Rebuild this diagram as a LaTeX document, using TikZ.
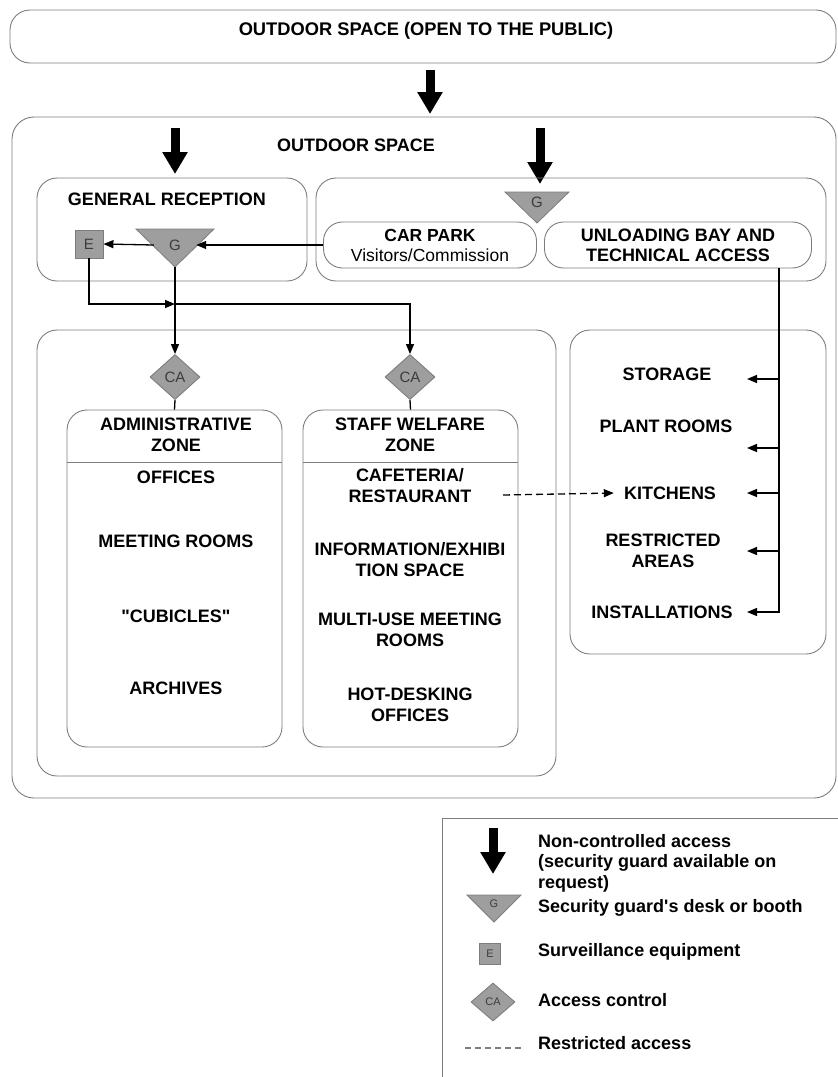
\documentclass[tikz,border=0pt]{standalone}
\usepackage{fontspec}
\setmainfont{Liberation Sans}
\newfontfamily\plainq{Liberation Sans}
\usetikzlibrary{shapes.geometric,arrows.meta}
\definecolor{boxline}{RGB}{125,125,125}
\definecolor{symfill}{RGB}{158,158,158}
\definecolor{symtext}{RGB}{60,60,60}
\tikzset{
  zone/.style={draw=boxline, line width=0.9pt, rounded corners=20pt},
  pill/.style={draw=boxline, line width=0.9pt, rounded corners=19pt, minimum height=46pt, inner sep=0pt, align=center, font=\fontsize{17.5}{20}\selectfont},
  lbl/.style={font=\fontsize{18}{21}\selectfont\bfseries, align=center, inner sep=0pt},
  titlelbl/.style={font=\fontsize{18.3}{20}\selectfont\bfseries, inner sep=0pt},
  leg/.style={font=\fontsize{18}{20.5}\selectfont\bfseries, align=left, anchor=west, inner sep=0pt},
  bigarr/.style={line width=9pt, -{Triangle[width=24pt,length=22pt]}},
  conn/.style={line width=1.3pt, draw=black},
  arr/.style={conn, -{Triangle[length=10pt,width=8pt]}},
  guard/.style={fill=symfill, draw=boxline, line width=0.8pt},
  gtxt/.style={font=\fontsize{15}{15}\selectfont, text=symtext, inner sep=0pt, minimum width=42pt, minimum height=14pt},
  ebox/.style={rectangle, fill=symfill, draw=boxline, line width=0.9pt, minimum size=28pt, inner sep=0pt, font=\fontsize{15}{15}\selectfont, text=symtext},
  cadia/.style={diamond, fill=symfill, draw=boxline, line width=0.9pt, minimum width=50pt, minimum height=45pt, inner sep=0pt, font=\fontsize{15}{15}\selectfont, text=symtext},
}
\begin{document}
\begin{tikzpicture}[x=1pt,y=-1pt]
\useasboundingbox (0,0) rectangle (838,1077);
\fill[white] (0,0) rectangle (838,1077);

% top band
\draw[zone] (10,10) rectangle (836,63);
\node[titlelbl] (t0) at (426,31) {OUTDOOR SPACE (OPEN TO THE PUBLIC)};
\coordinate (a0s) at (430,70);
\coordinate (a0e) at (430,114);
\draw[bigarr] (a0s) -- (a0e);

% outer outdoor space
\draw[zone, rounded corners=22pt] (12,117) rectangle (836,798);
\node[lbl] (t1) at (356,145) {OUTDOOR SPACE};
\coordinate (a1s) at (175,128);
\coordinate (a1e) at (175,174);
\draw[bigarr] (a1s) -- (a1e);
\coordinate (a2s) at (540,128);
\coordinate (a2e) at (540,184);
\draw[bigarr] (a2s) -- (a2e);

% general reception
\draw[zone] (37,178) rectangle (307,281);
\node[lbl] (rec) at (167,199) {GENERAL RECEPTION};
\filldraw[guard] (136,229) -- (214,229) -- (175,267) -- cycle;
\node[gtxt] (gA) at (175,245) {G};
\coordinate (gAapex) at (175,267);
\node[ebox] (E) at (89,244) {E};

% vehicle area
\draw[zone] (316,178) rectangle (826,281);
\filldraw[guard] (505,192) -- (569,192) -- (537,223) -- cycle;
\node[gtxt] (gB) at (537,202) {G};
\node[pill, minimum width=213pt] (cpark) at (430,245) {\textbf{CAR PARK}\\Visitors/Commission};
\node[pill, minimum width=267pt, font=\fontsize{18}{20}\selectfont\bfseries] (unl) at (678,245) {UNLOADING BAY AND\\TECHNICAL ACCESS};

% middle area
\draw[zone] (37,330) rectangle (556,776);
\draw[zone] (570,330) rectangle (826,654);

\node[cadia] (ca1) at (175,377) {CA};
\node[cadia] (ca2) at (410,377) {CA};

% admin zone
\node[zone, minimum width=215pt, minimum height=337pt, inner sep=0pt] (adm) at (174.5,578.5) {};
\draw[draw=boxline, line width=0.9pt] (67,462) -- (282,462);
\node[lbl] (admh) at (176,435) {ADMINISTRATIVE\\ZONE};
\node[lbl] (off) at (176,477) {OFFICES};
\node[lbl] (mtg) at (176,541) {MEETING ROOMS};
\node[lbl] (cub) at (176,616) {{\plainq\bfseries "CUBICLES"}};
\node[lbl] (arc) at (176,688) {ARCHIVES};

% staff welfare zone
\node[zone, minimum width=215pt, minimum height=337pt, inner sep=0pt] (stf) at (410.5,578.5) {};
\draw[draw=boxline, line width=0.9pt] (303,462) -- (518,462);
\node[lbl] (stfh) at (410,435) {STAFF WELFARE\\ZONE};
\node[lbl] (caf) at (410,486) {CAFETERIA/\\RESTAURANT};
\node[lbl] (inf) at (410,560) {INFORMATION/EXHIBI\\TION SPACE};
\node[lbl] (mul) at (410,630) {MULTI-USE MEETING\\ROOMS};
\node[lbl] (hot) at (410,705) {HOT-DESKING\\OFFICES};

% technical zone
\node[lbl] (sto) at (667,374) {STORAGE};
\node[lbl] (pla) at (666,426) {PLANT ROOMS};
\node[lbl] (kit) at (670,493) {KITCHENS};
\node[lbl] (res) at (663,551) {RESTRICTED\\AREAS};
\node[lbl] (ins) at (662,612) {INSTALLATIONS};

% connectors
\draw[arr] (cpark.west) -- (gA.east);
\draw[arr] (gA.west) -- (E.east);
\draw[arr] (gAapex) -- (ca1.north);
\coordinate (j1) at (175,304);
\draw[arr] (E.south) |- (j1);
\draw[arr] (j1) -| (ca2.north);
\draw[conn] (ca1.south) -- (adm.north);
\draw[conn] (ca2.south) -- (stf.north);

\coordinate (uB) at (779,268);
\coordinate (tSto) at (747,379);
\coordinate (tPla) at (747,448);
\coordinate (tKit) at (747,493);
\coordinate (tRes) at (747,551);
\coordinate (tIns) at (747,612);
\draw[arr] (uB) |- (tIns);
\draw[arr] (tSto -| uB) -- (tSto);
\draw[arr] (tPla -| uB) -- (tPla);
\draw[arr] (tKit -| uB) -- (tKit);
\draw[arr] (tRes -| uB) -- (tRes);

\coordinate (dS) at (503,495);
\draw[arr, dashed, dash pattern=on 7pt off 4pt] (dS) -- ([xshift=-10pt]kit.west);

% legend
\draw[draw=boxline, line width=0.9pt] (442,818) rectangle (850,1090);
\coordinate (l1s) at (493,828);
\coordinate (l1e) at (493,874);
\draw[bigarr] (l1s) -- (l1e);
\node[leg] (lt1) at (538,863) {Non-controlled access\\(security guard available on\\request)};
\filldraw[guard] (467,895) -- (521,895) -- (494,922) -- cycle;
\node[font=\fontsize{11}{11}\selectfont, text=symtext, inner sep=0pt] (lg) at (494,904) {G};
\node[leg] (lt2) at (538,908) {{\plainq\bfseries Security guard's desk or booth}};
\node[ebox, minimum size=21pt, font=\fontsize{11}{11}\selectfont] (le) at (490,954) {E};
\node[leg] (lt3) at (538,952) {Surveillance equipment};
\node[cadia, minimum width=44pt, minimum height=38pt, font=\fontsize{11}{11}\selectfont] (lca) at (493,1002) {CA};
\node[leg] (lt4) at (538,1000) {Access control};
\coordinate (lds) at (465,1048);
\coordinate (lde) at (521,1048);
\draw[line width=1.2pt, dash pattern=on 6pt off 4pt, boxline] (lds) -- (lde);
\node[leg] (lt5) at (538,1043) {Restricted access};
\end{tikzpicture}
\end{document}
